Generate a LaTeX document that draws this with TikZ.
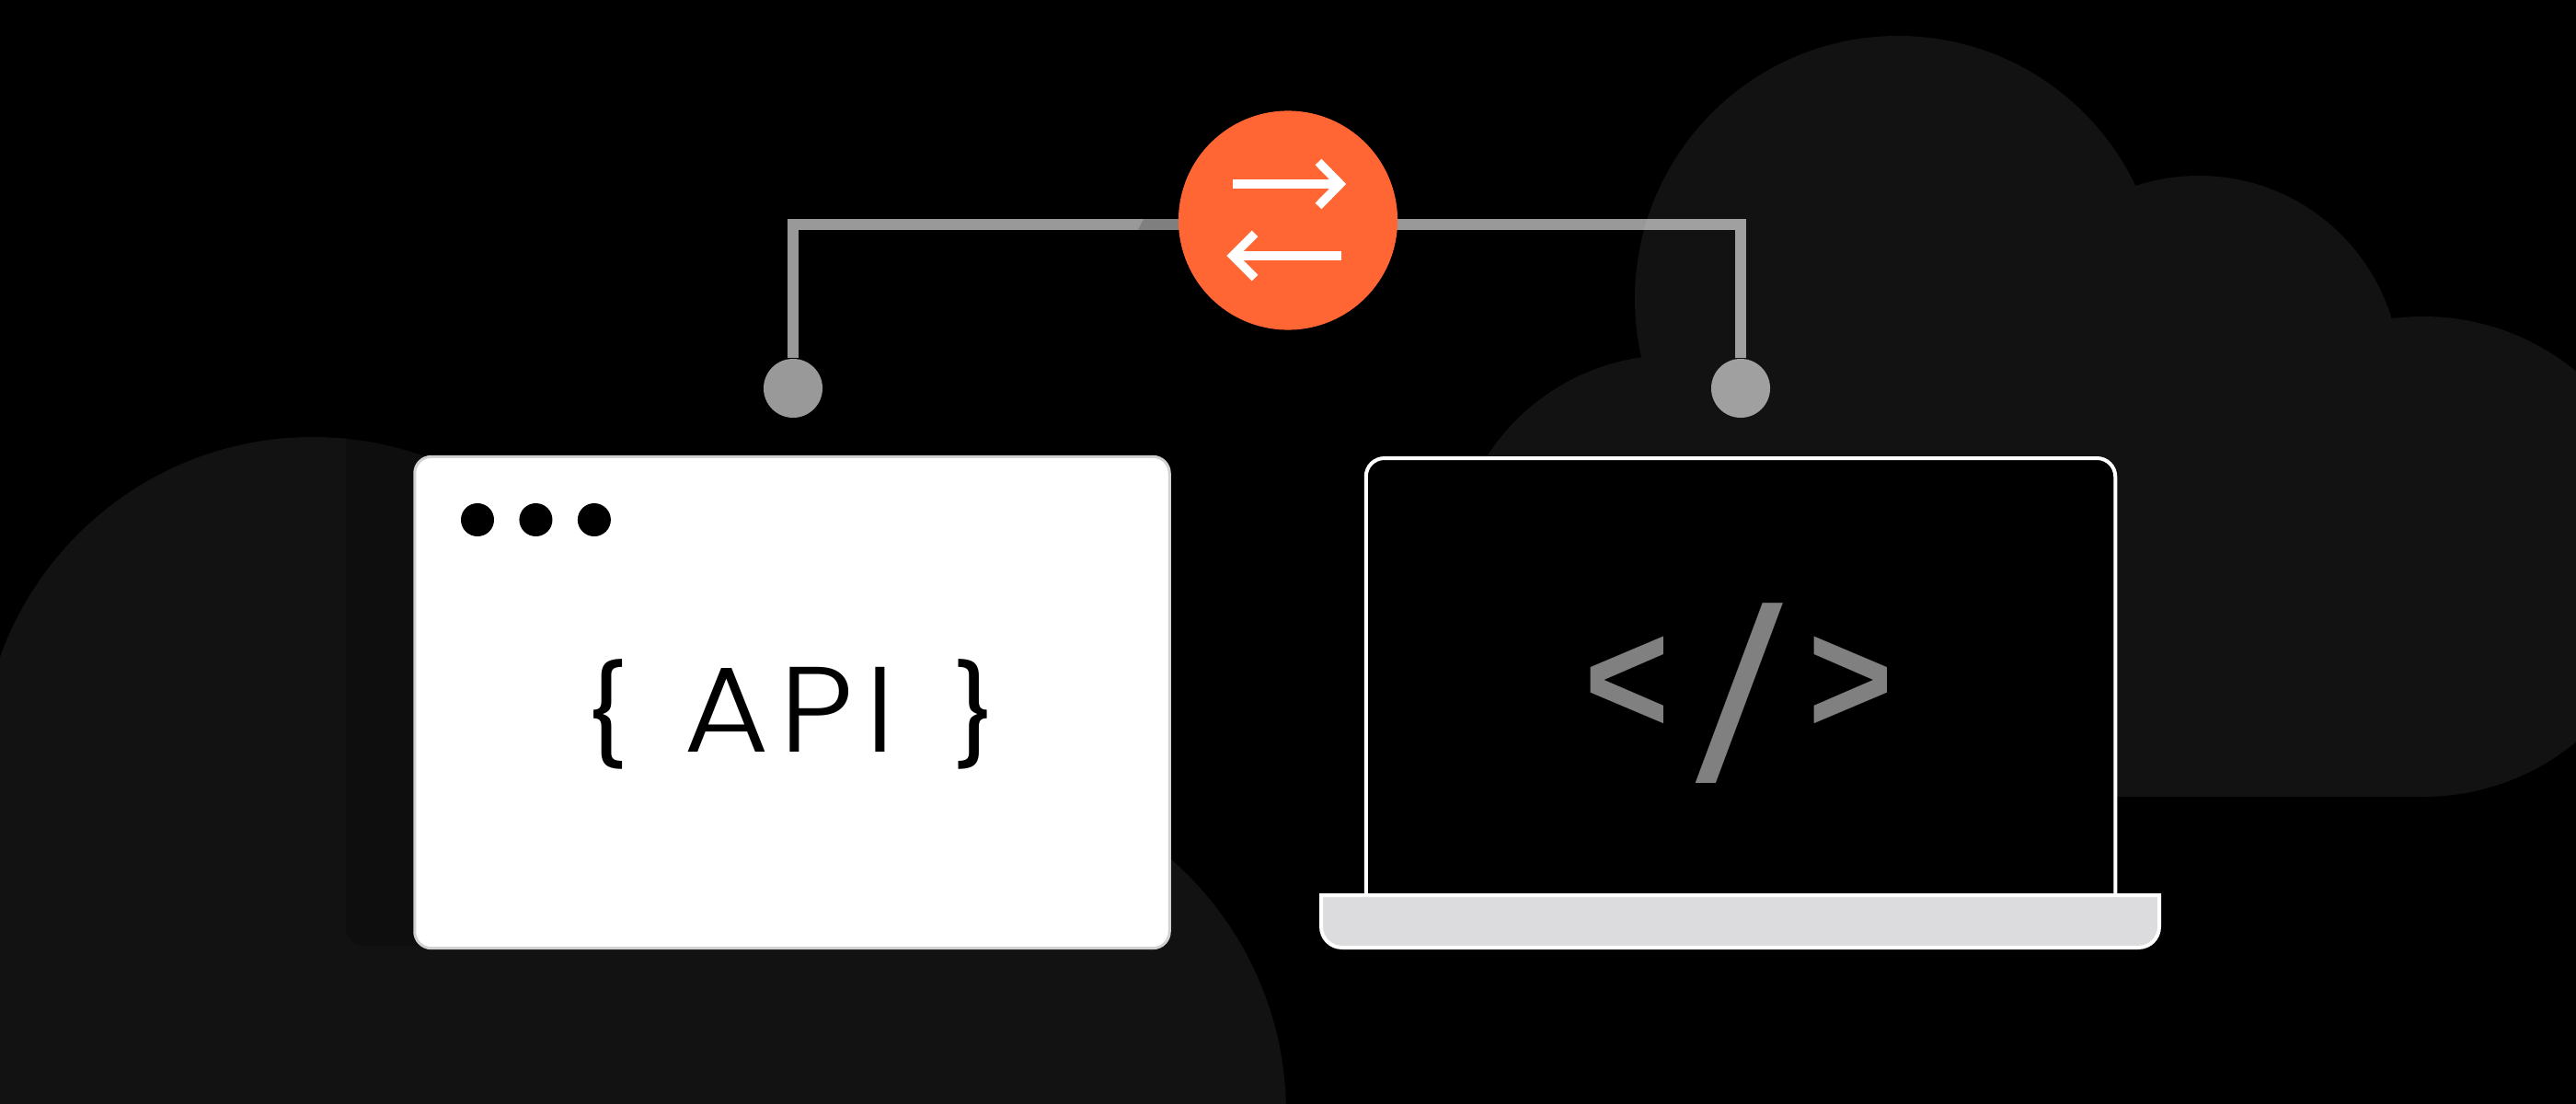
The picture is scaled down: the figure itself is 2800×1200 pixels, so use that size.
\documentclass[tikz,border=0pt]{standalone}
\usepackage{fontspec}
\setmainfont{Poppins Light}
\newfontfamily\apifont[LetterSpace=9,FakeStretch=1.08]{Poppins Light}
\newfontfamily\bracefont{Fira Sans}
\newfontfamily\codefont[FakeStretch=0.9]{Liberation Sans Bold}
\newfontfamily\slashfont{Open Sans}
\usetikzlibrary{positioning}

\definecolor{hubcolor}{HTML}{FF6633}
\definecolor{cloudcolor}{HTML}{121212}
\definecolor{basecolor}{HTML}{DCDCDE}
\definecolor{codecolor}{HTML}{808080}

\begin{document}
\begin{tikzpicture}[
  x=0.01cm, y=-0.01cm,
  cloud/.style={fill=cloudcolor},
  port/.style={circle, fill=white, fill opacity=0.6, minimum size=0.64cm, inner sep=0pt},
  link/.style={draw=white, draw opacity=0.6, line width=0.12cm},
  winbtn/.style={circle, fill=black, minimum size=0.36cm, inner sep=0pt},
  swaparrow/.style={draw=white, line width=0.095cm},
  brace/.style={font=\bracefont\fontsize{35}{35}\selectfont, inner sep=0pt},
  sign/.style={font=\codefont\fontsize{50}{50}\selectfont, text=codecolor, inner sep=0pt}
]
\useasboundingbox (0,0) rectangle (2800,1200);
\fill[black] (0,0) rectangle (2800,1200);
\clip (0,0) rectangle (2800,1200);

% ---------- clouds ----------
\fill[cloud] (340,836) circle (361);
\fill[cloud] (1031,1210) circle (367);
\fill[cloud] (0,836) rectangle (1100,1200);
\fill[cloud] (2063,325) circle (286);
\fill[cloud] (2390,410) circle (219);
\fill[cloud] (2634,605) circle (261);
\fill[cloud] (1818,626) circle (240);
\fill[cloud] (1818,400) rectangle (2634,866);

% ---------- window ----------
\fill[black, opacity=0.2, rounded corners=0.18cm] (376,440) rectangle (700,1028);
\node[draw=black!18, fill=white, line width=0.03cm, rounded corners=0.18cm,
  minimum width=8.2cm, minimum height=5.34cm, inner sep=0pt] (window) at (861,763.5) {};
\node[winbtn] (btnA) at (519,565) {};
\node[winbtn, right=0.26cm of btnA] (btnB) {};
\node[winbtn, right=0.26cm of btnB] (btnC) {};
\node[font=\apifont\fontsize{37.5}{37.5}\selectfont, inner sep=0pt] (api) at (858,771) {API};
\node[brace] (braceL) at (662,776) {\{};
\node[brace] (braceR) at (1056,776) {\}};

% ---------- laptop ----------
\node[draw=white, fill=black, line width=0.04cm, rounded corners=0.2cm,
  minimum width=8.14cm, minimum height=5.2cm, inner sep=0pt, anchor=north] (screen) at (1892,496) {};
\draw[fill=basecolor, draw=white, line width=0.04cm]
  (1436,973) -- (1436,1007) .. controls (1436,1020) and (1446,1030) .. (1459,1030)
  -- (2324,1030) .. controls (2337,1030) and (2347,1020) .. (2347,1007) -- (2347,973) -- cycle;
\node[sign] (ltsign) at (1769,745) {<};
\node[font=\slashfont\fontsize{78}{78}\selectfont, text=codecolor, inner sep=0pt] (slash) at (1891,754) {/};
\node[sign] (gtsign) at (2012,745) {>};

% ---------- connectors ----------
\node[port] (dotL) at (862,422) {};
\node[port] (dotR) at (1892,422) {};
\coordinate (hubL) at (1300,244);
\coordinate (hubR) at (1500,244);
\draw[link] (dotL) |- (hubL);
\draw[link] (dotR) |- (hubR);
\fill[black, opacity=0.17] (1243,238) -- (1237,250) -- (1290,250) -- (1290,238) -- cycle;

% ---------- hub ----------
\node[circle, fill=hubcolor, minimum size=2.38cm, inner sep=0pt] (hub) at (1400,239.5) {};
\coordinate (topS) at (1340,200);
\coordinate (topE) at (1456.5,200);
\coordinate (lowS) at (1458,278);
\coordinate (lowE) at (1340,278);
\draw[swaparrow] (topS) -- (topE);
\draw[swaparrow] (1433,176) -- (topE) -- (1433,224);
\draw[swaparrow] (lowS) -- (lowE);
\draw[swaparrow] (1364,254) -- (lowE) -- (1364,302);
\end{tikzpicture}
\end{document}
